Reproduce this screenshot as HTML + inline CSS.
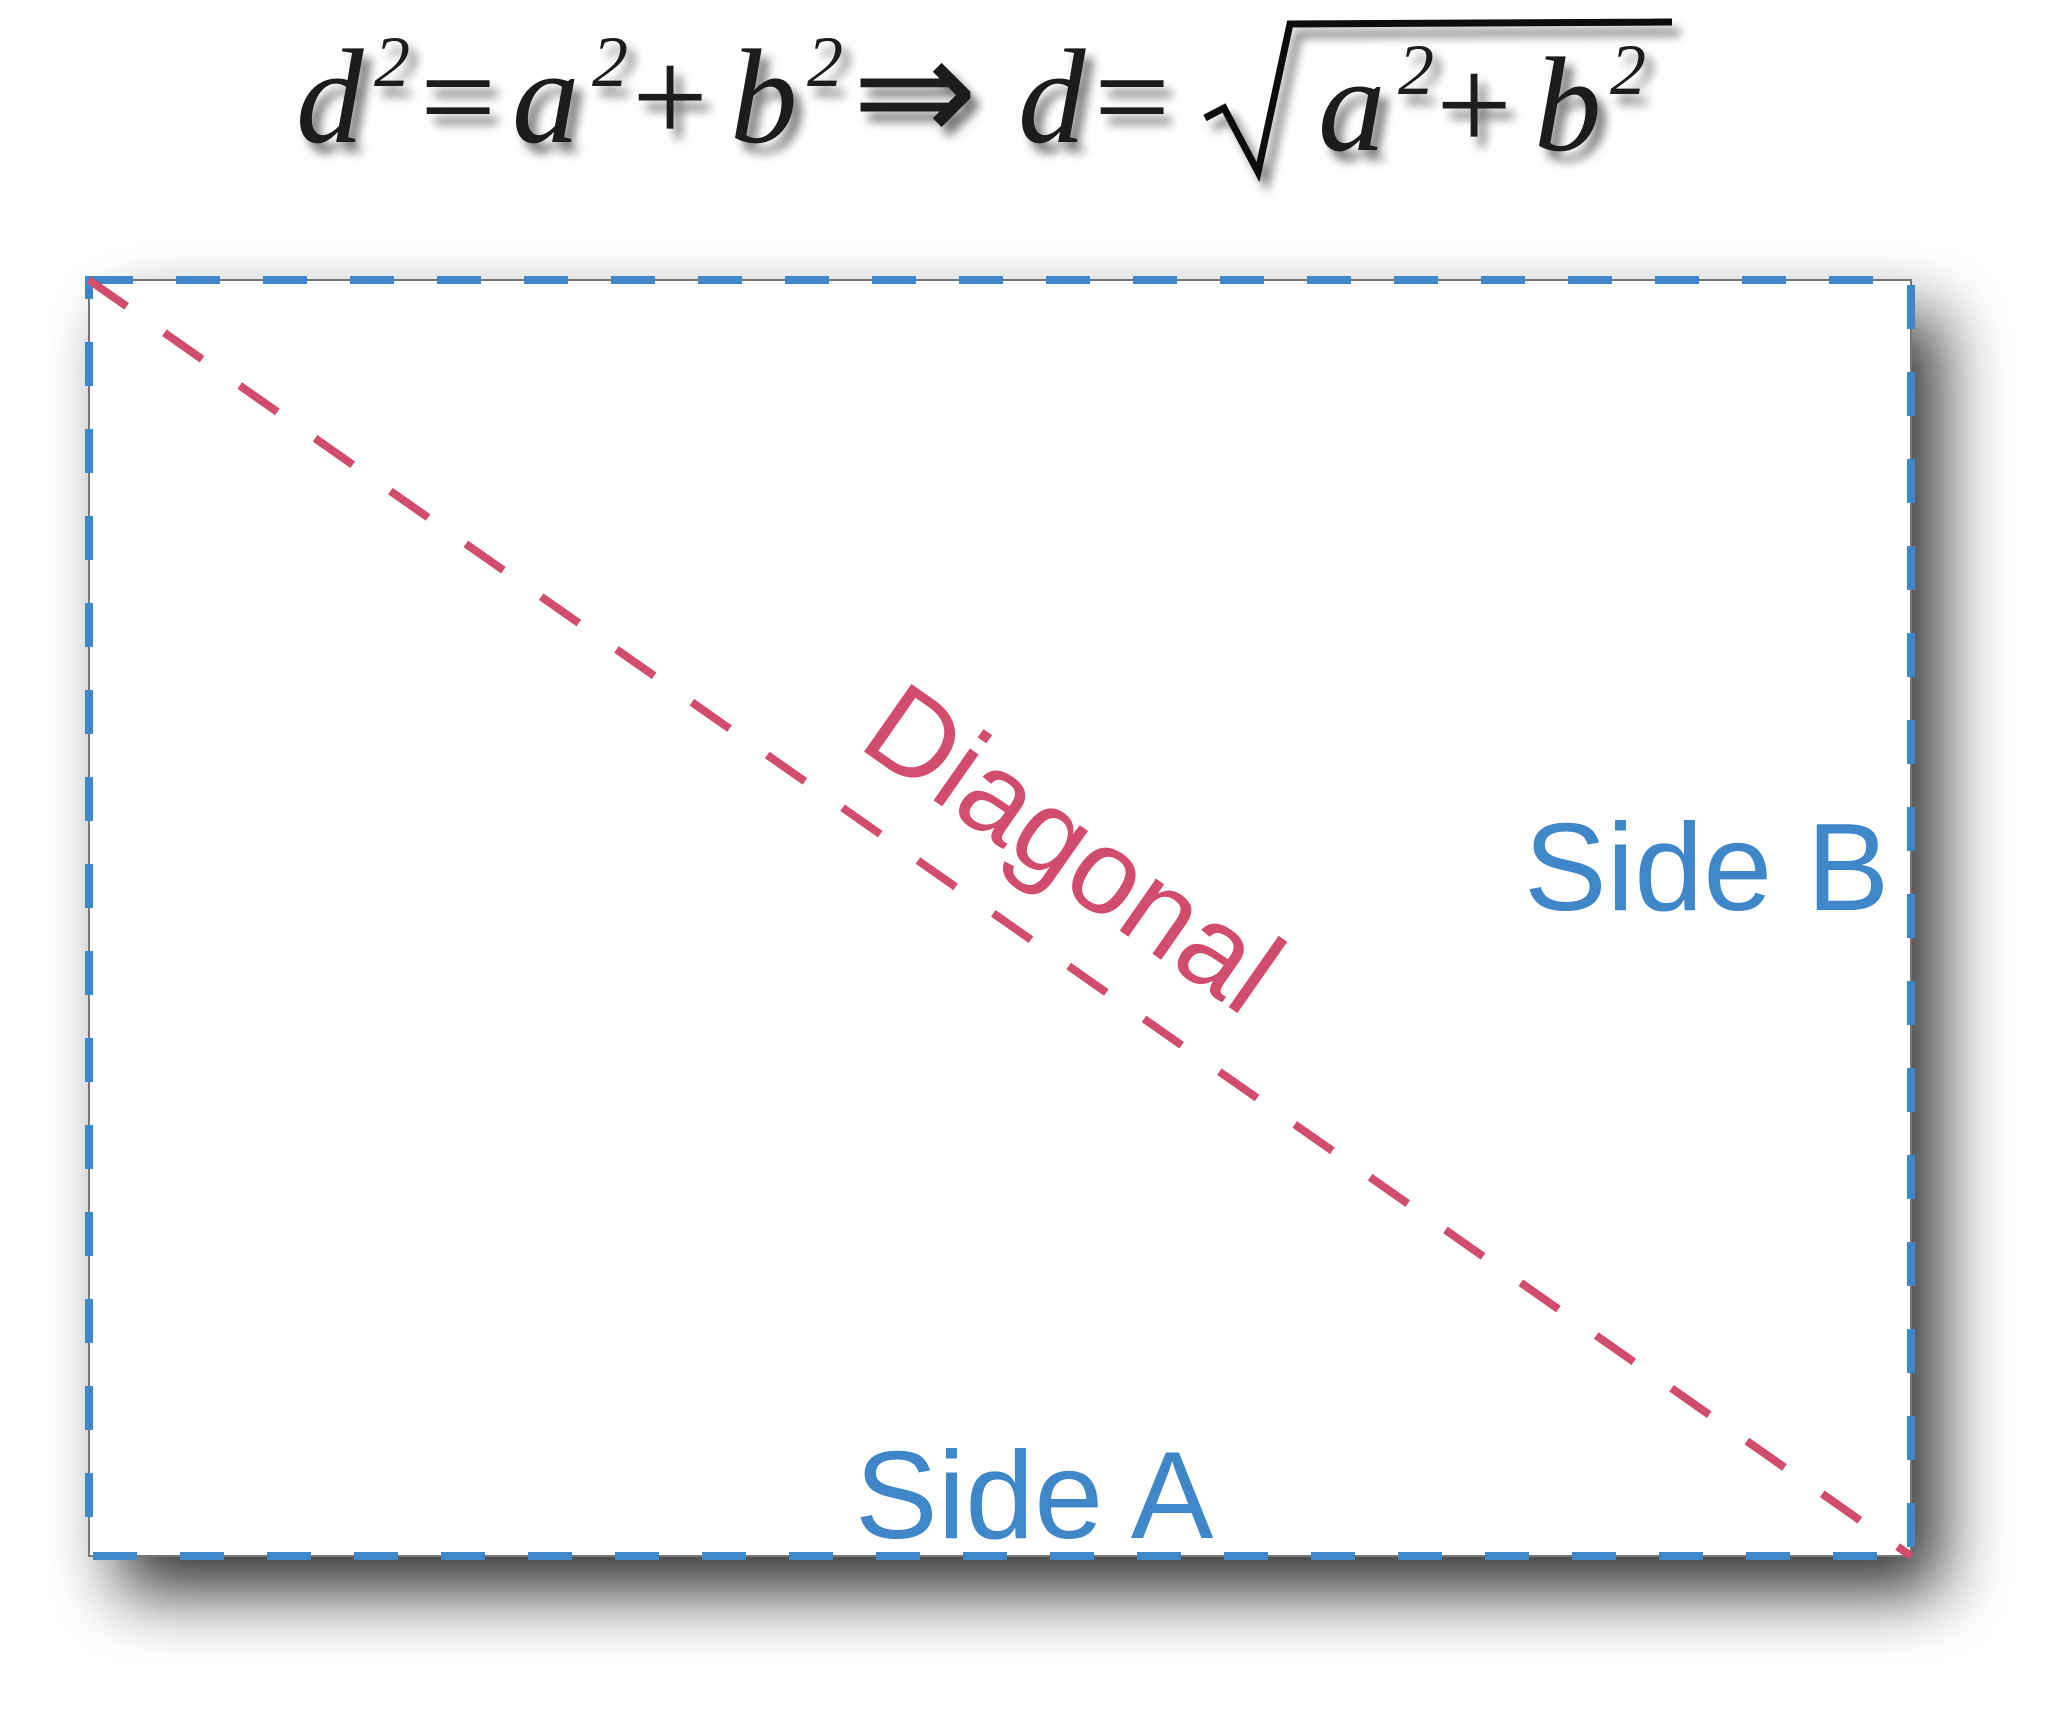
<!DOCTYPE html>
<html><head><meta charset="utf-8"><style>
html,body{margin:0;padding:0;background:#fff;width:2048px;height:1730px;overflow:hidden}
svg{display:block}
</style></head><body>
<svg width="2048" height="1730" viewBox="0 0 2048 1730">
<defs>
<filter id="sh" x="-20%" y="-20%" width="150%" height="150%">
<feGaussianBlur in="SourceAlpha" stdDeviation="34"/>
<feOffset dx="30" dy="36" result="b"/>
<feComponentTransfer><feFuncA type="linear" slope="0.8"/></feComponentTransfer>
<feMerge><feMergeNode/><feMergeNode in="SourceGraphic"/></feMerge>
</filter>
<filter id="tsh" x="-10%" y="-30%" width="130%" height="180%">
<feGaussianBlur in="SourceAlpha" stdDeviation="5"/>
<feOffset dx="8" dy="10"/>
<feComponentTransfer><feFuncA type="linear" slope="0.55"/></feComponentTransfer>
<feMerge><feMergeNode/><feMergeNode in="SourceGraphic"/></feMerge>
</filter>
</defs>
<g filter="url(#tsh)" font-family="Liberation Serif, serif" font-size="135" fill="#1a1a1a">
<text x="296" y="142" font-style="italic">d</text>
<text x="374" y="86" font-size="72" font-style="italic">2</text>
<text x="420" y="142">=</text>
<text x="512" y="142" font-style="italic">a</text>
<text x="592" y="86" font-size="72" font-style="italic">2</text>
<text x="632" y="142">+</text>
<text x="730" y="142" font-style="italic">b</text>
<text x="807" y="86" font-size="72" font-style="italic">2</text>
<text x="852" y="142" font-size="150">⇒</text>
<text x="1018" y="142" font-style="italic">d</text>
<text x="1094" y="142">=</text>
<path d="M1205 118 L1224 108 L1258 172 L1290 24 L1672 22" fill="none" stroke="#111" stroke-width="7"/>
<text x="1318" y="150" font-style="italic">a</text>
<text x="1398" y="94" font-size="72" font-style="italic">2</text>
<text x="1436" y="150">+</text>
<text x="1534" y="150" font-style="italic">b</text>
<text x="1610" y="94" font-size="72" font-style="italic">2</text>
</g>
<rect x="89" y="280" width="1822" height="1276" fill="#fff" stroke="#777" stroke-width="2" filter="url(#sh)"/>
<rect x="89" y="280" width="1822" height="1276" fill="none" stroke="#3f87c9" stroke-width="8" stroke-dasharray="44 43"/>
<line x1="89" y1="280" x2="1911" y2="1556" stroke="#d24c6e" stroke-width="8" stroke-dasharray="46 46"/>
<text font-family="Liberation Sans, sans-serif" font-size="120" fill="#d24c6e" transform="translate(856,746) rotate(35)">Diagonal</text>
<text x="1524" y="910" font-family="Liberation Sans, sans-serif" font-size="124" fill="#3f87c9">Side B</text>
<text x="855" y="1538" font-family="Liberation Sans, sans-serif" font-size="124" fill="#3f87c9">Side A</text>
</svg>
</body></html>
